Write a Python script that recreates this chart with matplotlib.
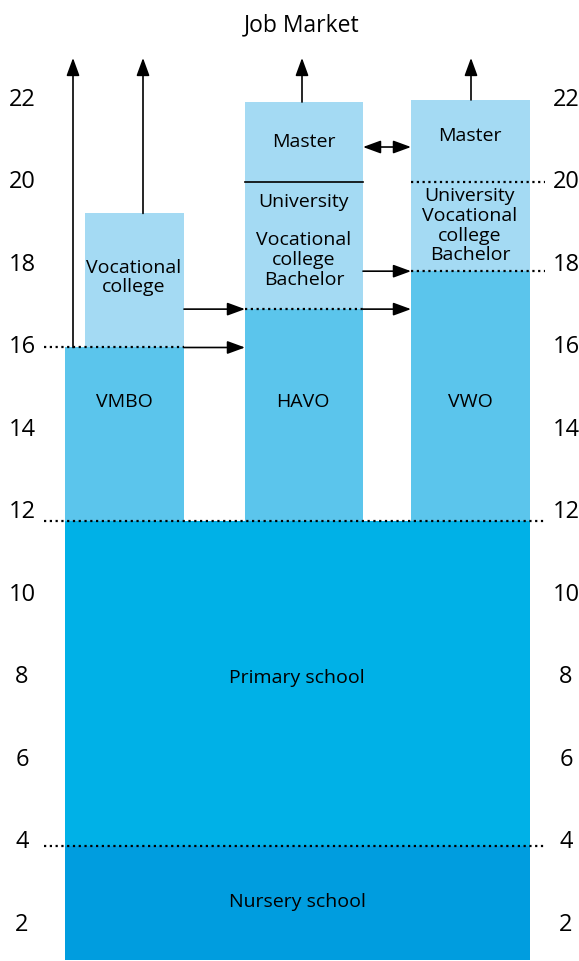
import matplotlib.pyplot as plt

plt.rcParams['font.family'] = ['Open Sans', 'DejaVu Sans']

# blocks: (label, start age, end age)
nursery = ("Nursery school", 1.15, 3.92)
primary = ("Primary school", 3.92, 11.8)
vmbo = ("VMBO", 11.8, 16.0)
vmbo_next = ("Vocational\ncollege", 16.0, 19.25)
havo = ("HAVO", 11.8, 16.93)
havo_next = ("Vocational\ncollege\nBachelor", 16.93, 20.0)
havo_master = ("Master", 20.0, 21.95)
vwo = ("VWO", 11.8, 17.85)
vwo_next = ("University\nVocational\ncollege\nBachelor", 17.85, 20.0)
vwo_master = ("Master", 20.0, 22.0)
ticks = [2, 4, 6, 8, 10, 12, 14, 16, 18, 20, 22]

c_nursery = "#009ddf"
c_primary = "#00b1e7"
c_mid = "#5bc5ec"
c_top = "#a4daf3"

fig = plt.figure(figsize=(5.79, 9.61), dpi=100)
ax = fig.add_axes([0, 0, 1, 1])
ax.set_xlim(0, 579)
ax.set_ylim(1.127, 24.424)
ax.axis("off")


def block(b, x0, x1, color):
    ax.bar((x0 + x1) / 2, b[2] - b[1], bottom=b[1], width=x1 - x0,
           color=color, linewidth=0, zorder=1)


block(nursery, 65, 530, c_nursery)
block(primary, 65, 530, c_primary)
block(vmbo, 65, 184, c_mid)
block(vmbo_next, 85, 184, c_top)
block(havo, 245, 363, c_mid)
block(havo_next, 245, 363, c_top)
block(havo_master, 245, 363, c_top)
block(vwo, 411, 530, c_mid)
block(vwo_next, 411, 530, c_top)
block(vwo_master, 411, 530, c_top)

fs = 14
ls = 1.12
ax.text(297, 2.56, nursery[0], ha="center", va="center", fontsize=fs)
ax.text(297, 7.99, primary[0], ha="center", va="center", fontsize=fs)
for lab, x in [(vmbo[0], 124), (havo[0], 303), (vwo[0], 470)]:
    ax.text(x, 14.68, lab, ha="center", va="center", fontsize=fs)
ax.text(134, 17.7, vmbo_next[0], ha="center", va="center", fontsize=fs, linespacing=ls)
ax.text(304, 20.98, havo_master[0], ha="center", va="center", fontsize=fs)
ax.text(304, 19.53, "University", ha="center", va="center", fontsize=fs)
ax.text(304, 18.12, havo_next[0], ha="center", va="center", fontsize=fs, linespacing=ls)
ax.text(470, 21.13, vwo_master[0], ha="center", va="center", fontsize=fs)
ax.text(470, 18.95, vwo_next[0], ha="center", va="center", fontsize=fs, linespacing=ls)
ax.text(302, 23.82, "Job Market", ha="center", va="center", fontsize=16.5)

for t in ticks:
    ax.text(22, t, str(t), ha="center", va="center", fontsize=17)
    ax.text(566, t, str(t), ha="center", va="center", fontsize=17)

dot = dict(color="black", linestyle=(0, (1, 1.6)), linewidth=1.6, zorder=3)
ax.plot([44, 184], [vmbo[2]] * 2, **dot)
ax.plot([44, 545], [primary[2]] * 2, **dot)
ax.plot([44, 545], [nursery[2]] * 2, **dot)
ax.plot([245, 363], [havo[2]] * 2, **dot)
ax.plot([411, 545], [vwo[2]] * 2, **dot)
ax.plot([411, 545], [vwo_next[2]] * 2, **dot)
ax.plot([245, 363], [havo_next[2]] * 2, color="black", linewidth=1.2, zorder=3)

arr = dict(arrowstyle="-|>,head_length=0.6,head_width=0.22", color="black",
           lw=1.2, shrinkA=0, shrinkB=0, mutation_scale=18)
job = 23.02
for x, y in [(73, vmbo[2]), (143, vmbo_next[2]), (302, havo_master[2]), (471, vwo_master[2])]:
    ax.annotate("", xy=(x, job), xytext=(x, y), arrowprops=arr, zorder=4)
ax.annotate("", xy=(245, vmbo[2]), xytext=(184, vmbo[2]), arrowprops=arr)
ax.annotate("", xy=(245, havo[2]), xytext=(184, havo[2]), arrowprops=arr)
ax.annotate("", xy=(411, havo[2]), xytext=(363, havo[2]), arrowprops=arr)
ax.annotate("", xy=(411, vwo[2]), xytext=(363, vwo[2]), arrowprops=arr)
dbl = dict(arr, arrowstyle="<|-|>,head_length=0.6,head_width=0.22")
ax.annotate("", xy=(411, 20.86), xytext=(363, 20.86), arrowprops=dbl)

fig.savefig("out.png", dpi=100)
